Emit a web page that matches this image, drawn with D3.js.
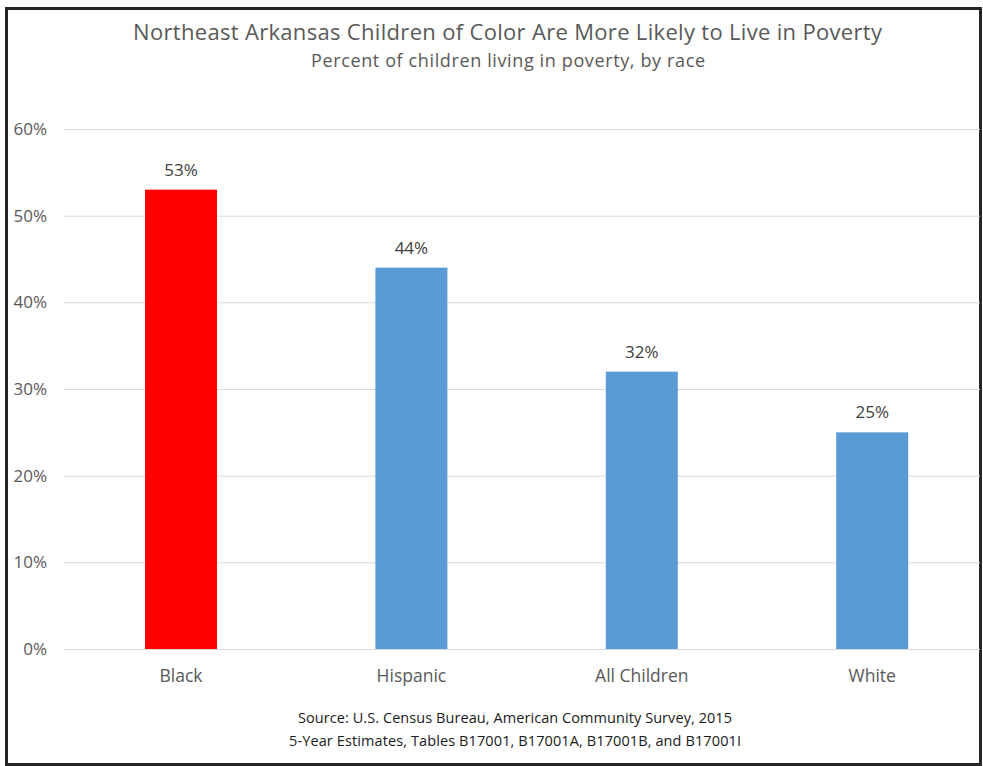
<!DOCTYPE html>
<html>
<head>
<meta charset="utf-8">
<script src="https://cdn.jsdelivr.net/npm/d3@7"></script>
<style>
  html, body { margin: 0; padding: 0; background: #fff; }
  svg { display: block; font-family: "Open Sans", "Noto Sans", sans-serif; }
</style>
</head>
<body>
<svg id="chart" width="983" height="766"></svg>
<script>
// Child poverty rates by race, Northeast Arkansas
const categories = ["Black", "Hispanic", "All Children", "White"];
const values = [0.53, 0.44, 0.32, 0.25];
const barColors = ["#FF0000", "#5B9BD5", "#5B9BD5", "#5B9BD5"];
const yTicks = [0, 0.1, 0.2, 0.3, 0.4, 0.5, 0.6];

const titleText = "Northeast Arkansas Children of Color Are More Likely to Live in Poverty";
const subtitleText = "Percent of children living in poverty, by race";
const sourceLines = [
  "Source: U.S. Census Bureau, American Community Survey, 2015",
  "5-Year Estimates, Tables B17001, B17001A, B17001B, and B17001I"
];

const svg = d3.select("#chart");
const pct = d3.format(".0%");

const plot = { left: 64, right: 980, top: 129, bottom: 649 };

const x = d3.scaleBand()
  .domain(categories)
  .range([65.8, 987.4])
  .paddingInner(0.6875)
  .paddingOuter(0.34375);

const y = d3.scaleLinear()
  .domain([0, 0.6])
  .range([plot.bottom, plot.top]);

// Outer frame
svg.append("rect")
  .attr("x", 6.5).attr("y", 8.5)
  .attr("width", 974).attr("height", 756)
  .attr("fill", "none")
  .attr("stroke", "#262626")
  .attr("stroke-width", 3);

// Titles
svg.append("text")
  .attr("x", 507.5).attr("y", 40)
  .attr("text-anchor", "middle")
  .attr("font-size", 22)
  .attr("fill", "#595959")
  .attr("textLength", 749)
  .text(titleText);

svg.append("text")
  .attr("x", 508).attr("y", 67)
  .attr("text-anchor", "middle")
  .attr("font-size", 18)
  .attr("fill", "#595959")
  .attr("textLength", 394)
  .text(subtitleText);

// Y axis: gridlines and percentage labels
const yAxis = d3.axisLeft(y)
  .tickValues(yTicks)
  .tickFormat(pct)
  .tickSize(-(plot.right - plot.left))
  .tickPadding(17);

const yG = svg.append("g")
  .attr("transform", `translate(${plot.left},0)`)
  .call(yAxis);
yG.select(".domain").remove();
yG.selectAll(".tick line").attr("stroke", "#D9D9D9").attr("stroke-width", 1);
yG.selectAll(".tick text")
  .attr("font-family", "\"Open Sans\", sans-serif")
  .attr("font-size", 17)
  .attr("fill", "#595959");

// Bars
svg.append("g")
  .selectAll("rect")
  .data(categories)
  .join("rect")
  .attr("x", d => x(d))
  .attr("y", (d, i) => y(values[i]))
  .attr("width", x.bandwidth())
  .attr("height", (d, i) => y(0) - y(values[i]))
  .attr("fill", (d, i) => barColors[i]);

// Value labels
svg.append("g")
  .selectAll("text")
  .data(categories)
  .join("text")
  .attr("x", d => x(d) + x.bandwidth() / 2)
  .attr("y", (d, i) => y(values[i]) - 14)
  .attr("text-anchor", "middle")
  .attr("font-size", 17)
  .attr("fill", "#404040")
  .text((d, i) => pct(values[i]));

// Category axis
const xAxis = d3.axisBottom(x).tickSize(0).tickPadding(21);
const xG = svg.append("g")
  .attr("transform", `translate(0,${plot.bottom})`)
  .call(xAxis);
xG.select(".domain").remove();
xG.selectAll(".tick text")
  .attr("font-family", "\"Open Sans\", sans-serif")
  .attr("font-size", 17.5)
  .attr("fill", "#595959");

// Source note
svg.append("g")
  .selectAll("text")
  .data(sourceLines)
  .join("text")
  .attr("x", 515)
  .attr("y", (d, i) => 723 + i * 23)
  .attr("text-anchor", "middle")
  .attr("font-size", 14.5)
  .attr("fill", "#1a1a1a")
  .attr("textLength", (d, i) => i === 0 ? 434 : 452)
  .text(d => d);
</script>
</body>
</html>
